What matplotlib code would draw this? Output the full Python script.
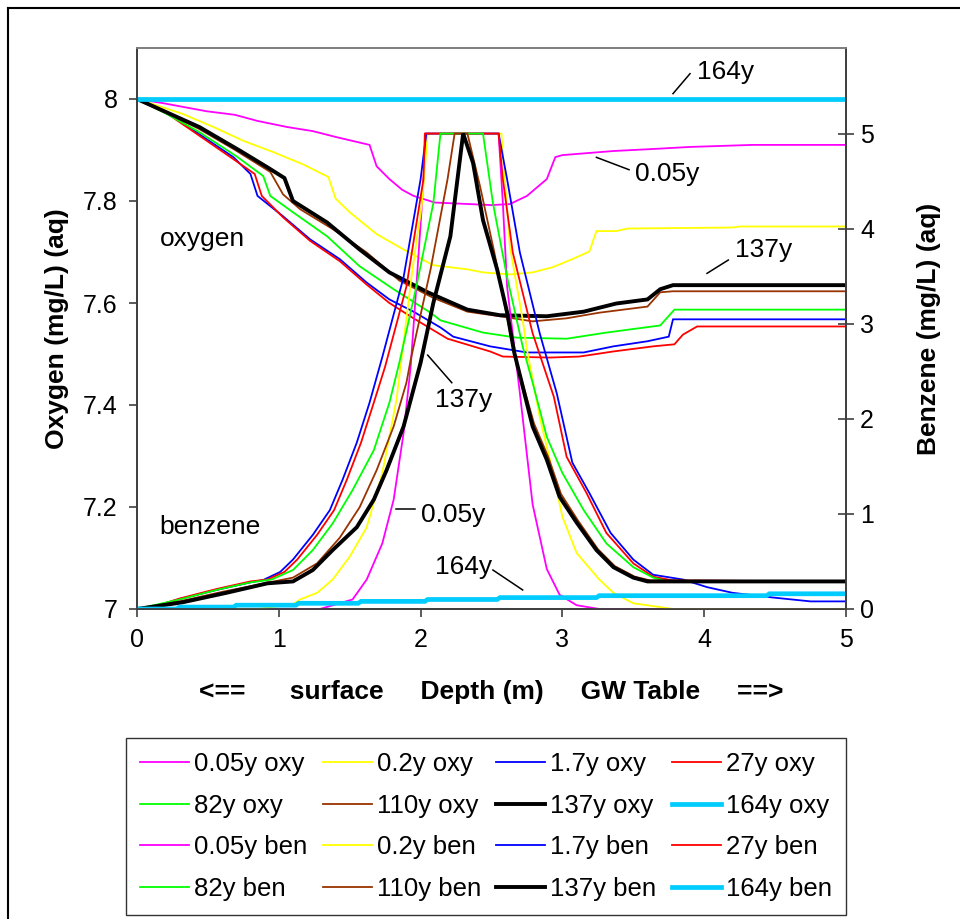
#!/usr/bin/env python3
"""
Oxygen and benzene profiles vs depth for several elapsed times.
"""

import matplotlib
matplotlib.use("Agg")
import matplotlib.pyplot as plt
from matplotlib.lines import Line2D

plt.rcParams["font.family"] = ["Liberation Sans", "DejaVu Sans"]

times = ["0.05y", "0.2y", "1.7y", "27y", "82y", "110y", "137y", "164y"]
colors = ["#FF00FF", "#FFFF00", "#0000FF", "#FF0000", "#00FF00", "#993300", "#000000", "#00CCFF"]
widths = [1.3, 1.3, 1.3, 1.3, 1.3, 1.3, 2.8, 3.4]

# oxygen (mg/L), left axis
oxy_005_d = [0, 0.18, 0.49, 0.69, 0.85, 1.06, 1.24, 1.41, 1.64, 1.69, 1.78, 1.87, 1.95, 2.1, 2.5, 2.63, 2.75, 2.89, 2.95, 3.0, 3.36, 3.64, 3.9, 4.34, 5.0]
oxy_005_v = [8.0, 7.992, 7.976, 7.969, 7.957, 7.945, 7.937, 7.925, 7.910, 7.868, 7.843, 7.822, 7.810, 7.797, 7.792, 7.794, 7.810, 7.843, 7.886, 7.890, 7.898, 7.902, 7.906, 7.910, 7.910]

oxy_02_d = [0, 0.32, 0.54, 0.75, 0.96, 1.17, 1.35, 1.40, 1.50, 1.69, 1.88, 2.09, 2.33, 2.44, 2.63, 2.79, 2.93, 3.07, 3.19, 3.24, 3.38, 3.46, 4.2, 4.25, 5.0]
oxy_02_v = [8.0, 7.971, 7.945, 7.918, 7.896, 7.872, 7.847, 7.805, 7.778, 7.735, 7.705, 7.674, 7.666, 7.660, 7.656, 7.660, 7.670, 7.686, 7.701, 7.741, 7.741, 7.746, 7.748, 7.750, 7.750]

oxy_17_d = [0, 0.21, 0.44, 0.68, 0.80, 0.85, 1.03, 1.22, 1.43, 1.62, 1.78, 1.95, 2.14, 2.23, 2.49, 2.75, 3.15, 3.36, 3.6, 3.75, 3.78, 5.0]
oxy_17_v = [8.0, 7.974, 7.931, 7.886, 7.853, 7.81, 7.770, 7.725, 7.686, 7.640, 7.607, 7.583, 7.552, 7.534, 7.515, 7.503, 7.503, 7.515, 7.525, 7.534, 7.568, 7.568]

oxy_27_d = [0, 0.21, 0.44, 0.68, 0.83, 0.88, 1.03, 1.22, 1.43, 1.62, 1.78, 1.95, 2.19, 2.49, 2.58, 2.91, 3.12, 3.36, 3.64, 3.79, 3.85, 3.95, 5.0]
oxy_27_v = [8.0, 7.972, 7.928, 7.882, 7.853, 7.81, 7.768, 7.722, 7.682, 7.636, 7.600, 7.570, 7.530, 7.505, 7.495, 7.493, 7.495, 7.505, 7.515, 7.519, 7.538, 7.554, 7.554]

oxy_82_d = [0, 0.2, 0.44, 0.70, 0.89, 0.94, 1.10, 1.34, 1.57, 1.81, 2.07, 2.14, 2.44, 2.68, 3.03, 3.31, 3.69, 3.79, 5.0]
oxy_82_v = [8.0, 7.972, 7.935, 7.888, 7.849, 7.81, 7.778, 7.731, 7.672, 7.627, 7.581, 7.566, 7.542, 7.532, 7.530, 7.542, 7.556, 7.587, 7.587]

oxy_110_d = [0, 0.2, 0.44, 0.68, 0.94, 1.03, 1.15, 1.38, 1.62, 1.85, 2.09, 2.33, 2.56, 2.79, 3.03, 3.26, 3.6, 3.69, 3.78, 5.0]
oxy_110_v = [8.0, 7.974, 7.941, 7.902, 7.857, 7.813, 7.784, 7.745, 7.699, 7.644, 7.610, 7.583, 7.574, 7.564, 7.570, 7.581, 7.593, 7.621, 7.623, 7.623]

oxy_137_d = [0, 0.2, 0.44, 0.73, 0.92, 1.04, 1.10, 1.34, 1.57, 1.78, 2.05, 2.33, 2.56, 2.89, 3.15, 3.38, 3.6, 3.69, 3.78, 5.0]
oxy_137_v = [8.0, 7.975, 7.945, 7.898, 7.866, 7.845, 7.800, 7.758, 7.705, 7.660, 7.621, 7.587, 7.576, 7.574, 7.583, 7.599, 7.607, 7.627, 7.635, 7.635]

oxy_164_d = [0, 5.0]
oxy_164_v = [8.0, 8.0]

# benzene (mg/L), right axis
ben_005_d = [0, 1.29, 1.52, 1.62, 1.73, 1.81, 1.88, 1.93, 1.97, 2.01, 2.04, 2.55, 2.58, 2.61, 2.70, 2.79, 2.89, 2.98, 3.10, 3.26, 5.0]
ben_005_v = [0, 0, 0.1, 0.31, 0.69, 1.15, 1.85, 2.55, 3.39, 4.27, 5.0, 5.0, 4.27, 3.39, 2.27, 1.1, 0.42, 0.15, 0.04, 0, 0]

ben_02_d = [0, 0.85, 1.10, 1.15, 1.27, 1.38, 1.50, 1.62, 1.73, 1.83, 1.94, 2.01, 2.05, 2.57, 2.63, 2.72, 2.75, 2.84, 2.94, 3.0, 3.10, 3.26, 3.36, 3.5, 3.69, 3.78, 5.0]
ben_02_v = [0, 0, 0.05, 0.1, 0.17, 0.31, 0.55, 0.86, 1.43, 2.2, 3.54, 4.27, 5.0, 5.0, 3.81, 3.04, 2.73, 2.02, 1.39, 0.97, 0.59, 0.31, 0.17, 0.06, 0.02, 0, 0]

ben_17_d = [0, 0.09, 0.30, 0.56, 0.80, 0.89, 1.01, 1.10, 1.24, 1.36, 1.45, 1.55, 1.64, 1.73, 1.88, 2.0, 2.04, 2.55, 2.61, 2.70, 2.84, 2.96, 3.07, 3.19, 3.34, 3.5, 3.64, 3.85, 4.02, 4.2, 4.49, 4.75, 5.0]
ben_17_v = [0, 0.01, 0.105, 0.2, 0.28, 0.305, 0.39, 0.52, 0.78, 1.04, 1.36, 1.75, 2.17, 2.65, 3.49, 4.52, 5.0, 5.0, 4.52, 3.75, 2.9, 2.27, 1.54, 1.22, 0.80, 0.52, 0.36, 0.31, 0.23, 0.17, 0.12, 0.08, 0.08]

ben_27_d = [0, 0.09, 0.30, 0.56, 0.80, 0.92, 1.04, 1.13, 1.27, 1.39, 1.48, 1.58, 1.67, 1.75, 1.90, 2.02, 2.03, 2.55, 2.58, 2.65, 2.79, 2.94, 3.03, 3.17, 3.31, 3.5, 3.64, 3.78, 5.0]
ben_27_v = [0, 0.01, 0.11, 0.21, 0.29, 0.31, 0.39, 0.52, 0.78, 1.04, 1.36, 1.75, 2.17, 2.55, 3.39, 4.52, 5.0, 5.0, 4.52, 3.75, 2.9, 2.23, 1.6, 1.22, 0.80, 0.48, 0.34, 0.30, 0.29]

ben_82_d = [0, 0.3, 0.56, 0.80, 0.95, 1.10, 1.24, 1.38, 1.52, 1.67, 1.78, 1.85, 1.97, 2.09, 2.14, 2.44, 2.51, 2.61, 2.72, 2.79, 2.89, 3.0, 3.15, 3.31, 3.5, 3.64, 3.75, 5.0]
ben_82_v = [0, 0.1, 0.2, 0.28, 0.31, 0.41, 0.62, 0.9, 1.25, 1.67, 2.17, 2.59, 3.39, 4.27, 5.0, 5.0, 4.27, 3.49, 2.76, 2.38, 1.81, 1.43, 1.04, 0.69, 0.44, 0.33, 0.29, 0.29]

ben_110_d = [0, 0.3, 0.6, 0.9, 1.10, 1.27, 1.43, 1.57, 1.69, 1.81, 1.90, 1.93, 2.07, 2.19, 2.24, 2.33, 2.42, 2.52, 2.66, 2.80, 2.90, 2.99, 3.11, 3.25, 3.37, 3.51, 3.62, 5.0]
ben_110_v = [0, 0.08, 0.18, 0.27, 0.33, 0.48, 0.75, 1.07, 1.46, 1.92, 2.38, 2.62, 3.57, 4.52, 5.0, 5.0, 4.44, 3.75, 2.69, 1.95, 1.60, 1.21, 0.93, 0.63, 0.45, 0.34, 0.30, 0.29]

ben_137_d = [0, 0.32, 0.63, 0.92, 1.10, 1.24, 1.38, 1.55, 1.67, 1.76, 1.88, 2.0, 2.09, 2.21, 2.26, 2.30, 2.37, 2.44, 2.54, 2.61, 2.66, 2.79, 2.89, 2.98, 3.10, 3.24, 3.36, 3.50, 3.60, 5.0]
ben_137_v = [0, 0.07, 0.17, 0.27, 0.29, 0.41, 0.62, 0.86, 1.15, 1.46, 1.92, 2.59, 3.22, 3.92, 4.52, 5.0, 4.69, 4.09, 3.57, 3.12, 2.70, 1.92, 1.57, 1.18, 0.91, 0.62, 0.44, 0.33, 0.29, 0.29]

ben_164_d = [0, 0.28, 0.30, 0.68, 0.70, 1.12, 1.14, 1.56, 1.58, 2.03, 2.05, 2.54, 2.56, 3.24, 3.26, 4.44, 4.46, 5.0]
ben_164_v = [0, 0, 0.02, 0.02, 0.04, 0.04, 0.06, 0.06, 0.08, 0.08, 0.10, 0.10, 0.12, 0.12, 0.14, 0.14, 0.16, 0.16]

oxy_series = [(oxy_005_d, oxy_005_v), (oxy_02_d, oxy_02_v), (oxy_17_d, oxy_17_v), (oxy_27_d, oxy_27_v),
              (oxy_82_d, oxy_82_v), (oxy_110_d, oxy_110_v), (oxy_137_d, oxy_137_v), (oxy_164_d, oxy_164_v)]
ben_series = [(ben_005_d, ben_005_v), (ben_02_d, ben_02_v), (ben_17_d, ben_17_v), (ben_27_d, ben_27_v),
              (ben_82_d, ben_82_v), (ben_110_d, ben_110_v), (ben_137_d, ben_137_v), (ben_164_d, ben_164_v)]

W, H = 960, 919
fig = plt.figure(figsize=(W / 100, H / 100), dpi=100)
ax = fig.add_axes([137 / W, 1 - 609 / H, (846 - 137) / W, (609 - 48) / H])
ax2 = ax.twinx()

handles = []
for (d, v), t, c, lw in zip(oxy_series, times, colors, widths):
    h, = ax.plot(d, v, color=c, lw=lw, label=t + " oxy", solid_joinstyle="miter")
    handles.append(h)
for (d, v), t, c, lw in zip(ben_series, times, colors, widths):
    h, = ax2.plot(d, v, color=c, lw=lw, label=t + " ben", solid_joinstyle="miter")
    handles.append(h)

ax.set_xlim(0, 5)
ax.set_ylim(7, 8.1)
ax2.set_ylim(0, 5.9)
ax.set_xticks([0, 1, 2, 3, 4, 5])
ax.set_yticks([7, 7.2, 7.4, 7.6, 7.8, 8])
ax.set_yticklabels(["7", "7.2", "7.4", "7.6", "7.8", "8"])
ax2.set_yticks([0, 1, 2, 3, 4, 5])

for a in (ax, ax2):
    for s in a.spines.values():
        s.set_color("#404040")
        s.set_linewidth(1.3)
    a.spines["top"].set_color("#808080")
ax.tick_params(axis="both", direction="out", length=6, width=1.2, color="#404040", labelsize=18, pad=8)
ax2.tick_params(axis="y", direction="inout", length=12, width=1.2, color="#404040", labelsize=18, pad=4)

ax.set_ylabel("Oxygen (mg/L) (aq)", fontsize=19, fontweight="bold")
ax2.set_ylabel("Benzene (mg/L) (aq)", fontsize=19, fontweight="bold")
ax.set_xlabel("<==      surface     Depth (m)     GW Table     ==>", fontsize=19, fontweight="bold")
ax.yaxis.set_label_coords(-0.096, 0.5)
ax2.yaxis.set_label_coords(1.100, 0.5)
ax.xaxis.set_label_coords(0.5, -0.126)

# curve labels
ax.text(0.16, 7.725, "oxygen", fontsize=19, va="center")
ax.text(0.16, 7.16, "benzene", fontsize=19, va="center")
leaders = [
    ((3.78, 5.42), (3.90, 5.63)),
    ((3.24, 4.75), (3.47, 4.62)),
    ((4.02, 3.53), (4.17, 3.67)),
    ((2.05, 2.67), (2.22, 2.38)),
    ((1.83, 1.05), (1.96, 1.05)),
    ((2.51, 0.41), (2.72, 0.20)),
]
for (x0, y0), (x1, y1) in leaders:
    ax2.plot([x0, x1], [y0, y1], color="black", lw=1.1)
note_text = [((3.95, 5.65), "164y"), ((3.51, 4.57), "0.05y"), ((4.22, 3.78), "137y"),
             ((2.10, 2.2), "137y"), ((2.0, 0.99), "0.05y"), ((2.10, 0.44), "164y")]
for (x, y), txt in note_text:
    ax2.text(x, y, txt, fontsize=19, va="center")

# legend, filled row by row like the original
order = [r * 4 + c for c in range(4) for r in range(4)]
leg = fig.legend([handles[i] for i in order], [handles[i].get_label() for i in order],
                 ncol=4, loc="upper left", bbox_to_anchor=(126 / W, 1 - 738 / H),
                 borderaxespad=0, fontsize=18.5, frameon=True, fancybox=False, edgecolor="black",
                 handlelength=1.9, handletextpad=0.2, columnspacing=0.6,
                 labelspacing=0.68, borderpad=0.55)
leg.get_frame().set_linewidth(1.0)

# outer chart border
fig.add_artist(Line2D([8 / W, 8 / W], [0, 1 - 8 / H], color="black", lw=1.5))
fig.add_artist(Line2D([8 / W, 1], [1 - 8 / H, 1 - 8 / H], color="black", lw=1.5))

fig.savefig("out.png", dpi=100)
